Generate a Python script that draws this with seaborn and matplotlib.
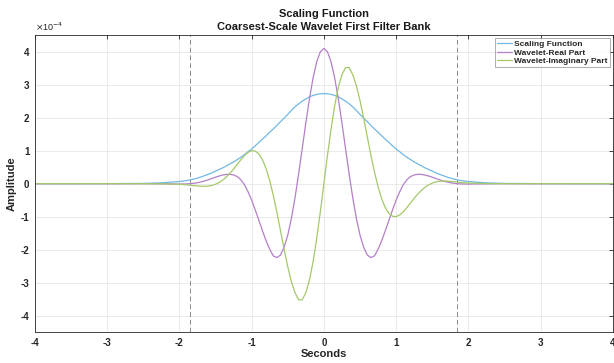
import numpy as np
import pandas as pd
import seaborn as sns
import matplotlib.pyplot as plt

# ---- data (amplitudes in units of 1e-4) ----
seconds = [-4.0, -3.0, -2.5, -2.25] + list(np.round(np.arange(-2.0, 2.0001, 0.05), 2)) + [2.25, 2.5, 3.0, 4.0]

scaling = [0.0, 0.001, 0.008, 0.025,
           0.065, 0.08, 0.095, 0.115, 0.14, 0.17, 0.205, 0.245, 0.285, 0.33, 0.38, 0.43, 0.48, 0.54, 0.60, 0.66,
           0.73, 0.80, 0.88, 0.97, 1.05, 1.15, 1.25, 1.35, 1.45, 1.56, 1.66, 1.77, 1.88, 1.99, 2.10, 2.22, 2.33,
           2.42, 2.50, 2.57, 2.63, 2.675, 2.705, 2.724,
           2.73,
           2.724, 2.705, 2.675, 2.63, 2.57, 2.50, 2.42, 2.33, 2.22, 2.10, 1.99, 1.88, 1.77, 1.66, 1.56, 1.45, 1.35,
           1.25, 1.15, 1.05, 0.97, 0.88, 0.80, 0.73, 0.66, 0.60, 0.54, 0.48, 0.43, 0.38, 0.33, 0.285, 0.245, 0.205,
           0.17, 0.14, 0.115, 0.095, 0.08, 0.065,
           0.025, 0.008, 0.001, 0.0]

wavelet_real = [0.0, 0.0, 0.0, -0.005,
                -0.012, -0.011, -0.007, 0.0, 0.012, 0.03, 0.053, 0.083, 0.118, 0.158, 0.197, 0.232, 0.262, 0.28,
                0.285, 0.265, 0.215, 0.12, -0.032, -0.244, -0.499, -0.797, -1.111, -1.43, -1.73, -1.99, -2.19,
                -2.24, -2.16, -1.922, -1.558, -1.055, -0.429, 0.291, 1.062, 1.841, 2.569, 3.200, 3.687, 3.995,
                4.10,
                3.995, 3.687, 3.200, 2.569, 1.841, 1.062, 0.291, -0.429, -1.055, -1.558, -1.922, -2.16, -2.24,
                -2.19, -1.99, -1.73, -1.43, -1.111, -0.797, -0.499, -0.244, -0.032, 0.12, 0.215, 0.265, 0.285,
                0.28, 0.262, 0.232, 0.197, 0.158, 0.118, 0.083, 0.053, 0.03, 0.012, 0.0, -0.007, -0.011, -0.012,
                -0.005, 0.0, 0.0, 0.0]

wavelet_imag = [0.0, 0.0, 0.0, -0.003,
                -0.018, -0.027, -0.037, -0.048, -0.060, -0.070, -0.078, -0.080, -0.073, -0.052, -0.016, 0.036,
                0.108, 0.202, 0.314, 0.444, 0.584, 0.724, 0.850, 0.947, 1.000, 0.986, 0.901, 0.727, 0.456, 0.091,
                -0.359, -0.875, -1.433, -1.991, -2.520, -2.969, -3.302, -3.52, -3.52, -3.302, -2.924, -2.370,
                -1.669, -0.862,
                0.0,
                0.862, 1.669, 2.370, 2.924, 3.302, 3.52, 3.52, 3.302, 2.969, 2.520, 1.991, 1.433, 0.875, 0.359,
                -0.091, -0.456, -0.727, -0.901, -0.986, -1.000, -0.947, -0.850, -0.724, -0.584, -0.444, -0.314,
                -0.202, -0.108, -0.036, 0.016, 0.052, 0.073, 0.080, 0.078, 0.070, 0.060, 0.048, 0.037, 0.027, 0.018,
                0.003, 0.0, 0.0, 0.0]

series_names = ["Scaling Function", "Wavelet-Real Part", "Wavelet-Imaginary Part"]
boundaries = [-1.85, 1.85]
x_ticks = [-4, -3, -2, -1, 0, 1, 2, 3, 4]
y_ticks = [-4, -3, -2, -1, 0, 1, 2, 3, 4]

df = pd.concat([
    pd.DataFrame({"Seconds": seconds, "Amplitude": vals, "Series": name})
    for name, vals in zip(series_names, [scaling, wavelet_real, wavelet_imag])
], ignore_index=True)

sns.set_theme(style="whitegrid")
plt.rcParams["font.family"] = ["Liberation Sans", "DejaVu Sans"]

fig = plt.figure(figsize=(6.14, 3.63), dpi=100)
ax = fig.add_axes([0.057, 0.085, 0.941, 0.818])

palette = {"Scaling Function": "#72b8e3",
           "Wavelet-Real Part": "#b47fc9",
           "Wavelet-Imaginary Part": "#a4c96a"}
sns.lineplot(data=df, x="Seconds", y="Amplitude", hue="Series", hue_order=series_names,
             palette=palette, estimator=None, linewidth=0.9, ax=ax)

for b in boundaries:
    ax.axvline(b, ls=(0, (5, 3)), color="#8a8a8a", lw=0.7, zorder=1)

ax.set_xlim(-4, 4)
ax.set_ylim(-4.5, 4.5)
ax.set_xticks(x_ticks)
ax.set_yticks(y_ticks)
ax.set_xticklabels([str(t) for t in x_ticks], fontweight="bold")
ax.set_yticklabels([str(t) for t in y_ticks], fontweight="bold")
ax.tick_params(direction="in", top=True, right=True, length=3, width=0.6,
               labelsize=7, colors="#262626", pad=4)
ax.grid(True, color="#e6e6e6", lw=0.6)
for s in ax.spines.values():
    s.set_visible(True)
    s.set_color("#262626")
    s.set_linewidth(0.6)

ax.set_title("Scaling Function\nCoarsest-Scale Wavelet First Filter Bank",
             fontsize=8, fontweight="bold", color="#1a1a1a", pad=4, linespacing=1.3)
ax.set_xlabel("Seconds", fontsize=8, fontweight="bold", color="#262626", labelpad=1)
ax.set_ylabel("Amplitude", fontsize=8, fontweight="bold", color="#262626", labelpad=3)
ax.text(0.0, 1.008, r"$\times$10$^{-4}$", transform=ax.transAxes, fontsize=6.5,
        color="#262626", ha="left", va="bottom")

leg = ax.legend(loc="upper right", prop={"size": 6, "weight": "bold"}, frameon=True,
                fancybox=False, edgecolor="#888888", borderpad=0.25, labelspacing=0.1,
                handlelength=1.8, handletextpad=0.3, borderaxespad=0.35)
leg.get_frame().set_linewidth(0.6)
for line in leg.get_lines():
    line.set_linewidth(0.9)

fig.savefig("out.png", dpi=100)
